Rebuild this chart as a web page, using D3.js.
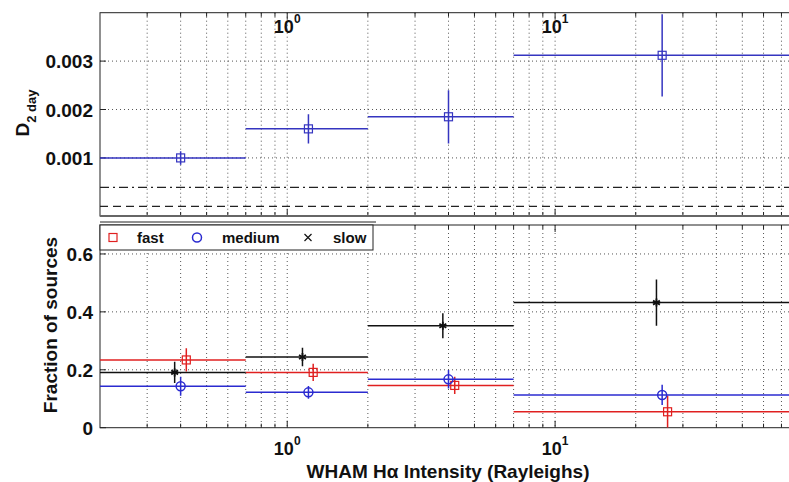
<!DOCTYPE html>
<html>
<head>
<style>
    body { margin: 0; background: #fff; }
    text { font-family: "Liberation Sans", Arial, sans-serif; font-weight: bold; fill: #111; }
</style>
<script src="https://d3js.org/d3.v7.min.js"></script>
</head>
<body>

<svg width="789" height="482"></svg>

<script>

    // bins in WHAM H-alpha intensity
    var binEdges = [0.2, 0.7, 2, 7, 80];

    // top panel: D2 at 2 days
    var d2X = [0.40, 1.20, 4.0, 25.1];
    var d2Day = [0.00100, 0.00160, 0.00185, 0.00312];
    var d2Err = [0.00014, 0.00030, 0.00055, 0.00085];
    var refDashDot = 0.00039;
    var refDashed = 0;

    // bottom panel: fraction of sources
    var fastX = [0.42, 1.25, 4.22, 26.3];
    var fast = [0.234, 0.191, 0.146, 0.055];
    var fastErr = [0.040, 0.030, 0.030, 0.055];

    var mediumX = [0.40, 1.20, 4.0, 25.1];
    var medium = [0.143, 0.122, 0.167, 0.113];
    var mediumErr = [0.033, 0.022, 0.032, 0.035];

    var slowX = [0.38, 1.14, 3.81, 23.9];
    var slow = [0.191, 0.244, 0.352, 0.432];
    var slowErr = [0.037, 0.032, 0.043, 0.080];

    var topTicks = [0.001, 0.002, 0.003];
    var botTicks = [0, 0.2, 0.4, 0.6];
    var gridX = [0.3, 0.4, 0.5, 0.6, 0.7, 0.8, 0.9, 1, 2, 3, 4, 5, 6, 7, 8, 9, 10, 20, 30, 40, 50, 60, 70];
    var majorX = [1, 10];

    var svg = d3.select('svg');

    var xScale = d3.scaleLog().domain([0.2, 80]).range([100, 797]);
    var yTop = d3.scaleLinear().domain([-0.0002, 0.004]).range([216, 12.7]);
    var yBot = d3.scaleLinear().domain([0, 0.7]).range([427.7, 225]);

    var blue = '#2b2bd0', red = '#e02020', black = '#111';

    function panel(id, y) {
        var r = y.range();
        svg.append('clipPath').attr('id', id)
            .append('rect')
            .attr('x', 100).attr('y', r[1])
            .attr('width', 697).attr('height', r[0] - r[1]);
        var g = svg.append('g');

        // dotted grid
        g.selectAll('.gx').data(gridX).enter().append('line')
            .attr('x1', function (d) { return xScale(d); })
            .attr('x2', function (d) { return xScale(d); })
            .attr('y1', r[1]).attr('y2', r[0])
            .attr('stroke', '#555').attr('stroke-width', 1)
            .attr('stroke-dasharray', '1,3');
        return g;
    }

    function frame(g, y, yTicks, fmt) {
        var r = y.range();
        g.selectAll('.gy').data(yTicks.filter(function (d) { return d > y.domain()[0]; }))
            .enter().append('line')
            .attr('x1', 100).attr('x2', 797)
            .attr('y1', function (d) { return y(d); })
            .attr('y2', function (d) { return y(d); })
            .attr('stroke', '#555').attr('stroke-dasharray', '1,3');

        // ticks on top and bottom
        [r[0], r[1]].forEach(function (yy, k) {
            var dir = k === 0 ? -1 : 1;
            g.selectAll(null).data(gridX).enter().append('line')
                .attr('x1', function (d) { return xScale(d); })
                .attr('x2', function (d) { return xScale(d); })
                .attr('y1', yy)
                .attr('y2', function (d) { return yy + dir * (majorX.indexOf(d) >= 0 ? 7 : 4); })
                .attr('stroke', '#222');
        });

        g.selectAll(null).data(yTicks).enter().append('line')
            .attr('x1', 100).attr('x2', 106)
            .attr('y1', function (d) { return y(d); })
            .attr('y2', function (d) { return y(d); })
            .attr('stroke', '#222');

        g.selectAll(null).data(yTicks).enter().append('text')
            .attr('x', 93)
            .attr('y', function (d) { return y(d) + 7; })
            .attr('text-anchor', 'end')
            .style('font-size', '19px')
            .text(fmt);

        g.append('rect')
            .attr('x', 100).attr('y', r[1])
            .attr('width', 720).attr('height', r[0] - r[1])
            .attr('fill', 'none').attr('stroke', '#222').attr('stroke-width', 1);
    }

    function powerLabels(g, yy) {
        var t = g.selectAll(null).data(majorX).enter().append('text')
            .attr('x', function (d) { return xScale(d); })
            .attr('y', yy)
            .attr('text-anchor', 'middle')
            .style('font-size', '18px');
        t.append('tspan').text('10');
        t.append('tspan')
            .attr('dy', -10)
            .style('font-size', '12px')
            .text(function (d) { return Math.round(Math.log10(d)); });
    }

    // step bars + error bars + markers
    function series(g, clipId, y, xs, vals, errs, color, marker) {
        var c = g.append('g').attr('clip-path', 'url(#' + clipId + ')');
        vals.forEach(function (v, i) {
            c.append('line')
                .attr('x1', xScale(binEdges[i])).attr('x2', xScale(binEdges[i + 1]))
                .attr('y1', y(v)).attr('y2', y(v))
                .attr('stroke', color).attr('stroke-width', 1.5);
            c.append('line')
                .attr('x1', xScale(xs[i])).attr('x2', xScale(xs[i]))
                .attr('y1', y(v - errs[i])).attr('y2', y(v + errs[i]))
                .attr('stroke', color).attr('stroke-width', 1.5);
            drawMarker(c, marker, xScale(xs[i]), y(v), color);
        });
    }

    function drawMarker(g, marker, cx, cy, color) {
        if (marker === 'square') {
            g.append('rect')
                .attr('x', cx - 4).attr('y', cy - 4)
                .attr('width', 8).attr('height', 8)
                .attr('fill', 'none').attr('stroke', color).attr('stroke-width', 1.2);
        } else if (marker === 'circle') {
            g.append('circle')
                .attr('cx', cx).attr('cy', cy).attr('r', 4.5)
                .attr('fill', 'none').attr('stroke', color).attr('stroke-width', 1.5);
        } else if (marker === 'star') {
            [0, 60, 120].forEach(function (a) {
                var rad = a * Math.PI / 180;
                g.append('line')
                    .attr('x1', cx - 4 * Math.sin(rad)).attr('y1', cy - 4 * Math.cos(rad))
                    .attr('x2', cx + 4 * Math.sin(rad)).attr('y2', cy + 4 * Math.cos(rad))
                    .attr('stroke', color).attr('stroke-width', 1.8);
            });
        } else if (marker === 'x') {
            g.append('path')
                .attr('d', 'M' + (cx - 3.5) + ',' + (cy - 3.5) + 'L' + (cx + 3.5) + ',' + (cy + 3.5) +
                    'M' + (cx - 3.5) + ',' + (cy + 3.5) + 'L' + (cx + 3.5) + ',' + (cy - 3.5))
                .attr('stroke', color).attr('stroke-width', 1.2);
        }
    }

    // ---- top panel ----
    var gTop = panel('clipTop', yTop);
    frame(gTop, yTop, topTicks, function (d) { return d3.format('.3f')(d); });

    gTop.append('line')
        .attr('x1', 100).attr('x2', 797)
        .attr('y1', yTop(refDashDot)).attr('y2', yTop(refDashDot))
        .attr('stroke', '#222').attr('stroke-width', 1.2)
        .attr('stroke-dasharray', '9,4,2,4');
    gTop.append('line')
        .attr('x1', 100).attr('x2', 797)
        .attr('y1', yTop(refDashed)).attr('y2', yTop(refDashed))
        .attr('stroke', '#222').attr('stroke-width', 1.2)
        .attr('stroke-dasharray', '8,5');

    series(gTop, 'clipTop', yTop, d2X, d2Day, d2Err, '#3535c0', 'square');
    powerLabels(gTop, 33);

    gTop.append('line')
        .attr('x1', 100).attr('x2', 797)
        .attr('y1', 216).attr('y2', 216)
        .attr('stroke', '#666').attr('stroke-width', 2);

    svg.append('text')
        .attr('transform', 'translate(29,113) rotate(-90)')
        .attr('text-anchor', 'middle')
        .style('font-size', '19px')
        .call(function (t) {
            t.append('tspan').text('D');
            t.append('tspan').attr('dy', 7).style('font-size', '13px').text('2 day');
        });

    // ---- bottom panel ----
    var gBot = panel('clipBot', yBot);
    frame(gBot, yBot, botTicks, function (d) { return d === 0 ? '0' : d3.format('.1f')(d); });

    series(gBot, 'clipBot', yBot, fastX, fast, fastErr, red, 'square');
    series(gBot, 'clipBot', yBot, slowX, slow, slowErr, black, 'star');
    series(gBot, 'clipBot', yBot, mediumX, medium, mediumErr, blue, 'circle');
    powerLabels(gBot, 455);

    svg.append('text')
        .attr('transform', 'translate(57,325) rotate(-90)')
        .attr('text-anchor', 'middle')
        .style('font-size', '19px')
        .text('Fraction of sources');

    svg.append('text')
        .attr('x', 448).attr('y', 478)
        .attr('text-anchor', 'middle')
        .style('font-size', '19px')
        .text('WHAM H\u03b1 Intensity (Rayleighs)');

    // ---- legend ----
    svg.append('line')
        .attr('x1', 100).attr('x2', 376).attr('y1', 222).attr('y2', 222)
        .attr('stroke', '#222');
    var leg = svg.append('g');
    leg.append('rect')
        .attr('x', 100).attr('y', 225).attr('width', 273).attr('height', 25)
        .attr('fill', '#fff').attr('stroke', '#222');

    var legNames = ['fast', 'medium', 'slow'];
    var legColors = [red, blue, black];
    var legMarkers = ['square', 'circle', 'x'];
    var legMarkX = [113, 197, 308];
    var legTextX = [137, 222, 333];
    legNames.forEach(function (n, i) {
        drawMarker(leg, legMarkers[i], legMarkX[i], 237.5, legColors[i]);
        leg.append('text')
            .attr('x', legTextX[i]).attr('y', 243)
            .style('font-size', '15px')
            .text(n);
    });
</script>
</body>
</html>
